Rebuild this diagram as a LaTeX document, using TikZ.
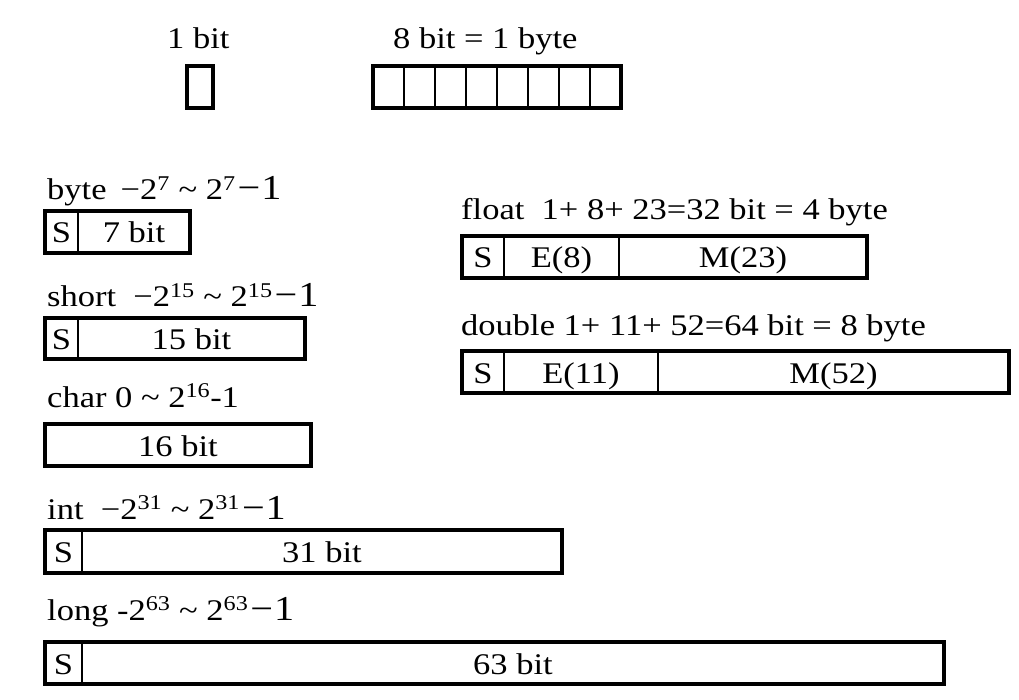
\documentclass[tikz,border=0pt]{standalone}
\usepackage{fontspec}
\setmainfont[FakeStretch=1.15]{Liberation Serif}
\usetikzlibrary{positioning}
\newcommand\lblfont{\fontsize{30}{32}\selectfont}
\newcommand\sups[1]{\textsuperscript{#1}}
\newcommand\tailone{{\fontsize{35}{35}\selectfont\hspace{2pt}−\hspace{1pt}1}}
\tikzset{
  cell/.style={draw, line width=2pt, minimum height=42pt, inner sep=0pt, outer sep=0pt,
    text height=22pt, text depth=0pt, font=\lblfont},
  frame/.style={draw, line width=4pt},
  caption/.style={anchor=base west, inner sep=0pt, font=\lblfont}
}
\begin{document}
\begin{tikzpicture}[x=1pt,y=-1pt]
    \useasboundingbox (0,0) rectangle (1019,700);
    % bit and byte
    \node[caption] (capbit) at (167,49) {1 bit};
    \node[cell, minimum width=26pt, minimum height=42pt] (onebit) at (200,87) {};
    \draw[frame] (onebit.north west) rectangle (onebit.south east);
    \node[caption] (capbyte) at (393,49) {8 bit = 1 byte};
    \foreach \i in {1,...,8}
      {\node[cell, minimum width=31pt] (b\i) at ({373+31*(\i-1)+15.5},87) {};}
    \draw[frame] (b1.north west) rectangle (b8.south east);
    % integer types
    \node[caption] (capbt) at (47,200) {byte\hspace{14pt}−2\sups{7} \char`\~{} 2\sups{7}\tailone};
    \node[cell, minimum width=33pt, anchor=west] (btS) at (45,232) {S};
    \node[cell, minimum width=112pt, right=0pt of btS] (btV) {7 bit};
    \draw[frame] (btS.north west) rectangle (btV.south east);

    \node[caption] (capsh) at (47,307) {short\ \ −2\sups{15} \char`\~{} 2\sups{15}\tailone};
    \node[cell, minimum width=33pt, minimum height=41pt, anchor=west] (shS) at (45,338.5) {S};
    \node[cell, minimum width=227pt, minimum height=41pt, right=0pt of shS] (shV) {15 bit};
    \draw[frame] (shS.north west) rectangle (shV.south east);

    \node[caption] (capch) at (47,407) {char 0 \char`\~{} 2\sups{16}-1};
    \node[cell, minimum width=266pt, anchor=west] (chV) at (45,445) {16 bit};
    \draw[frame] (chV.north west) rectangle (chV.south east);

    \node[caption] (capin) at (47,519) {int\ \ −2\sups{31} \char`\~{} 2\sups{31}\tailone};
    \node[cell, minimum width=37pt, minimum height=43pt, anchor=west] (inS) at (45,551.5) {S};
    \node[cell, minimum width=480pt, minimum height=43pt, right=0pt of inS] (inV) {31 bit};
    \draw[frame] (inS.north west) rectangle (inV.south east);

    \node[caption] (caplg) at (47,620) {long -2\sups{63} \char`\~{} 2\sups{63}\tailone};
    \node[cell, minimum width=37pt, anchor=west] (lgS) at (45,663) {S};
    \node[cell, minimum width=862pt, right=0pt of lgS] (lgV) {63 bit};
    \draw[frame] (lgS.north west) rectangle (lgV.south east);
    % floating point types
    \node[caption] (capfl) at (461,220) {float\ \ 1+ 8+ 23=32 bit = 4 byte};
    \node[cell, minimum width=42pt, anchor=west] (flS) at (462,257) {S};
    \node[cell, minimum width=115pt, right=0pt of flS] (flE) {E(8)};
    \node[cell, minimum width=248pt, right=0pt of flE] (flM) {M(23)};
    \draw[frame] (flS.north west) rectangle (flM.south east);

    \node[caption] (capdb) at (461,335) {double 1+ 11+ 52=64 bit = 8 byte};
    \node[cell, minimum width=42pt, anchor=west] (dbS) at (462,372) {S};
    \node[cell, minimum width=154pt, right=0pt of dbS] (dbE) {E(11)};
    \node[cell, minimum width=351pt, right=0pt of dbE] (dbM) {M(52)};
    \draw[frame] (dbS.north west) rectangle (dbM.south east);
  \end{tikzpicture}
\end{document}
